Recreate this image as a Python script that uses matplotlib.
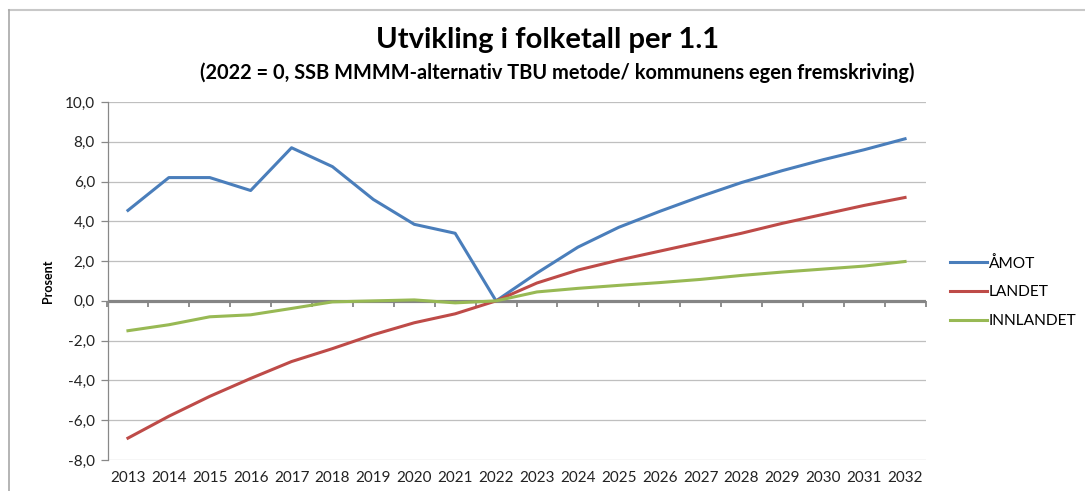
import matplotlib
matplotlib.use("Agg")
import matplotlib.pyplot as plt
from matplotlib.lines import Line2D

years = [str(y) for y in range(2013, 2033)]
amot = [4.55, 6.2, 6.2, 5.55, 7.7, 6.75, 5.1, 3.85, 3.4, 0.0,
        1.4, 2.7, 3.7, 4.5, 5.25, 5.95, 6.55, 7.1, 7.6, 8.15]
landet = [-6.9, -5.8, -4.8, -3.9, -3.05, -2.4, -1.7, -1.1, -0.65, 0.0,
          0.9, 1.55, 2.05, 2.5, 2.95, 3.4, 3.9, 4.35, 4.8, 5.2]
innlandet = [-1.5, -1.2, -0.8, -0.7, -0.38, -0.05, 0.0, 0.05, -0.1, 0.0,
             0.45, 0.63, 0.78, 0.92, 1.08, 1.28, 1.45, 1.6, 1.75, 1.98]
series_names = ["ÅMOT", "LANDET", "INNLANDET"]
colors = ["#4A7EBB", "#BE4B48", "#98B954"]
yticks = [-8, -6, -4, -2, 0, 2, 4, 6, 8, 10]

plt.rcParams['font.family'] = ['Lato', 'DejaVu Sans']

fig = plt.figure(figsize=(10.85, 4.91), dpi=100)
ax = fig.add_axes([107.5/1085, 1-460/491, 818/1085, 358/491])

x = list(range(len(years)))
for vals, name, c in zip([amot, landet, innlandet], series_names, colors):
    ax.plot(x, vals, color=c, lw=2.2, label=name, zorder=3)

ax.set_xlim(-0.5, len(years) - 0.5)
ax.set_ylim(-8, 10)
ax.set_yticks(yticks)
ax.set_yticklabels([f"{v:.1f}".replace('.', ',') for v in yticks], fontsize=11, color='#222222')
ax.yaxis.grid(True, color='#BFBFBF', lw=0.9)
ax.set_axisbelow(True)
ax.tick_params(axis='y', direction='out', length=5, color='#888888', width=0.9, pad=4)

ax.set_xticks(x)
ax.set_xticklabels(years, fontsize=11, color='#222222')
ax.tick_params(axis='x', length=0, pad=8)

for s in ['top', 'right', 'bottom']:
    ax.spines[s].set_visible(False)
ax.spines['left'].set_color('#888888')
ax.spines['left'].set_linewidth(0.9)

# zero-line category axis with tick marks
ax.axhline(0, color='#858585', lw=2.3, zorder=2)
sec = ax.secondary_xaxis((0 - (-8)) / (10 - (-8)))
sec.set_xticks([i - 0.5 for i in range(len(years) + 1)])
sec.set_xticklabels([])
sec.tick_params(direction='out', length=4, width=1.3, color='#868686')
sec.spines['bottom'].set_visible(False)

ax.set_ylabel("Prosent", fontsize=9, fontweight='bold', labelpad=8)

fig.text(548/1085, 1-40/491, "Utvikling i folketall per 1.1", ha='center', va='center',
         fontsize=21, fontweight='bold')
fig.text(557/1085, 1-73/491, "(2022 = 0, SSB MMMM-alternativ TBU metode/ kommunens egen fremskriving)",
         ha='center', va='center', fontsize=14.4, fontweight='bold')

handles = [Line2D([0], [0], color=c, lw=2.2) for c in colors]
fig.legend(handles, series_names, loc='center left', bbox_to_anchor=(936/1085, 1-292/491),
           frameon=False, fontsize=11.2, handlelength=2.4, handletextpad=0.1, labelspacing=0.95)

# outer frame (top and left)
fig.add_artist(Line2D([9/1085, 1], [1-10/491, 1-10/491], color='#C8C8C8', lw=1.5))
fig.add_artist(Line2D([9/1085, 9/1085], [0, 1-10/491], color='#A8A8A8', lw=1.2))

fig.savefig("out.png", dpi=100)
